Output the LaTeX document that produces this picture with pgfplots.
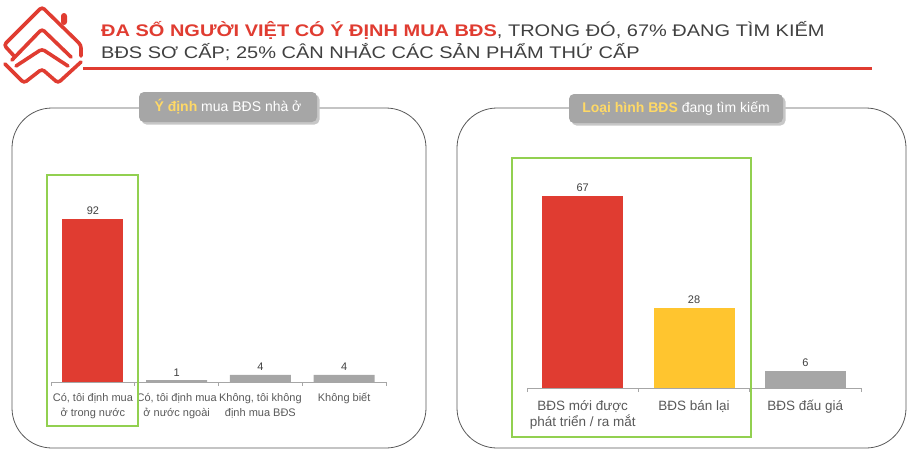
\documentclass[border=0pt]{standalone}
\usepackage{fontspec}
\setmainfont{Liberation Sans}
\newfontfamily\titlefont[FakeStretch=1.19]{Liberation Sans}
\usepackage{pgfplots}
\pgfplotsset{compat=1.18}

\definecolor{bred}{HTML}{E03C31}
\definecolor{byel}{HTML}{FFC52F}
\definecolor{bgray}{HTML}{A6A6A6}
\definecolor{bgreen}{HTML}{92D050}
\definecolor{txt}{HTML}{595959}
\definecolor{ttl}{HTML}{404040}
\definecolor{hl}{HTML}{FFD966}

\pgfplotsset{
  barchart/.style={
    scale only axis, ybar, bar shift=0pt, ymin=0, clip=false,
    axis x line*=bottom, axis y line=none, ytick=\empty,
    x axis line style={bgray, line width=0.8pt},
    major tick length=0pt, minor tick length=4pt, xtick align=outside,
    minor tick style={bgray, line width=0.8pt},
    xticklabel style={text=txt, align=center},
    /pgf/number format/assume math mode=true,
    nodes near coords,
    nodes near coords style={text=ttl, anchor=south, inner sep=1pt, yshift=3pt,
      font=\fontsize{11}{13}\selectfont},
  }
}

\begin{document}
\begin{tikzpicture}[x=1pt,y=1pt]
\path[use as bounding box] (0,0) rectangle (913,-456);

% logo
\begin{scope}[draw=bred, line width=3.6pt, rounded corners=3pt, line cap=round]
  \draw (15,-57) -- (4,-45) -- (42,-7) -- (81,-45) -- (81,-56);
  \draw (12,-60) -- (42,-29) -- (71,-57);
  \draw (16,-66) -- (42,-49) -- (68,-66);
  \draw (5,-64) -- (24,-83) -- (42,-69) -- (58,-83) -- (81,-62);
  \fill[bred] (61,-13) rectangle (67,-25);
\end{scope}
\draw[bred, line width=3.5pt] (83,-68.5) -- (872,-68.5);

% title
\node[anchor=base west, inner sep=0, font=\titlefont\fontsize{16.8}{20}\selectfont] at (101,-36)
  {\textcolor{bred}{\textbf{ĐA SỐ NGƯỜI VIỆT CÓ Ý ĐỊNH MUA BĐS}}\textcolor{ttl}{, TRONG ĐÓ, 67\% ĐANG TÌM KIẾM}};
\node[anchor=base west, inner sep=0, font=\titlefont\fontsize{16.8}{20}\selectfont, text=ttl] at (101,-58.5)
  {BĐS SƠ CẤP; 25\% CÂN NHẮC CÁC SẢN PHẨM THỨ CẤP};

% panels
\draw[black!65, line width=0.8pt, rounded corners=40pt] (12,-108) rectangle (426,-448);
\draw[black!65, line width=0.8pt, rounded corners=40pt] (457,-108) rectangle (906,-448);
\fill[black!22, rounded corners=5pt] (141.5,-94.5) rectangle (319.5,-124.5);
\fill[bgray, rounded corners=5pt] (139,-92) rectangle (317,-122);
\node[text=white, font=\fontsize{14}{16}\selectfont] at (228,-107)
  {\textbf{\textcolor{hl}{Ý định}} mua BĐS nhà ở};
\fill[black!22, rounded corners=5pt] (571.5,-96.5) rectangle (785.5,-125.5);
\fill[bgray, rounded corners=5pt] (569,-94) rectangle (783,-123);
\node[text=white, font=\fontsize{14}{16}\selectfont] at (676,-108.5)
  {\textbf{\textcolor{hl}{Loại hình BĐS}} đang tìm kiếm};

% left chart
\begin{axis}[barchart,
  at={(51pt,-382pt)}, anchor=south west,
  width=335pt, height=177pt, ymax=100,
  xmin=-0.5, xmax=3.5, bar width=61pt,
  xtick={0,1,2,3}, minor xtick={-0.5,0.5,1.5,2.5,3.5},
  xticklabels={{Có, tôi định mua\\ở trong nước},{Có, tôi định mua\\ở nước ngoài},{Không, tôi không\\định mua BĐS},{Không biết}},
  xticklabel style={font=\fontsize{11}{15}\selectfont, yshift=-8pt},
]
\addplot[fill=bred, draw=none] coordinates {(0,92)};
\addplot[fill=bgray, draw=none] coordinates {(1,1) (2,4) (3,4)};
\end{axis}

% right chart
\begin{axis}[barchart,
  at={(527pt,-388pt)}, anchor=south west,
  width=334pt, height=201pt, ymax=70,
  xmin=-0.5, xmax=2.5, bar width=81pt,
  xtick={0,1,2}, minor xtick={-0.5,0.5,1.5,2.5},
  xticklabels={{BĐS mới được\\phát triển / ra mắt},{BĐS bán lại},{BĐS đấu giá}},
  xticklabel style={font=\fontsize{13.5}{16}\selectfont, yshift=-9pt},
]
\addplot[fill=bred, draw=none] coordinates {(0,67)};
\addplot[fill=byel, draw=none] coordinates {(1,28)};
\addplot[fill=bgray, draw=none] coordinates {(2,6)};
\end{axis}

% highlight boxes
\draw[bgreen, line width=2pt] (47,-175) rectangle (138,-426);
\draw[bgreen, line width=2pt] (512,-158) rectangle (751,-437);
\end{tikzpicture}
\end{document}
